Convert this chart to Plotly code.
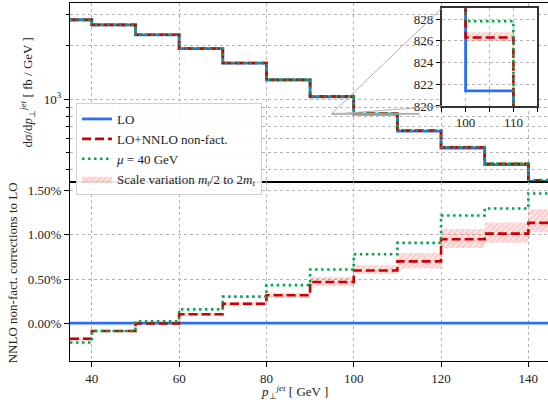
import numpy as np
import plotly.graph_objects as go

# ---------------- data ----------------
bin_edges = [35, 40, 50, 60, 70, 80, 90, 100, 110, 120, 130, 140, 145]
lo_xsec = [2812, 2633, 2311, 1931, 1596, 1282, 1030, 821.4, 658, 528, 425, 342]          # fb/GeV
nnlo_corr = [-0.177, -0.09, -0.005, 0.10, 0.22, 0.315, 0.466, 0.597, 0.70, 0.95, 1.015, 1.136]  # %
mu40_corr = [-0.22, -0.09, 0.02, 0.155, 0.30, 0.43, 0.607, 0.78, 0.91, 1.22, 1.30, 1.47]       # %
band_low = [-0.20, -0.10, -0.015, 0.08, 0.195, 0.285, 0.417, 0.557, 0.62, 0.852, 0.91, 1.03]    # %
band_high = [-0.155, -0.08, 0.005, 0.115, 0.24, 0.345, 0.523, 0.657, 0.795, 1.068, 1.14, 1.29]  # %
x_ticks = [40, 60, 80, 100, 120, 140]
ratio_ticks = [0.0, 0.5, 1.0, 1.5]
ratio_ticktext = ["0.00%", "0.50%", "1.00%", "1.50%"]
inset_x_ticks = [100, 110]
inset_x_minor = [95, 105, 115]
inset_y_ticks = [820, 822, 824, 826, 828]

# ---------------- styles ----------------
FONT = "Liberation Serif"
BLUE = "#2d6ff2"
RED = "#cc0000"
GREEN = "#00a84f"
GRID = "#b4b4b4"
XR = [35, 144.5]
YLOG = [2.530, 3.544]
INSET_XR = [95, 115]
INSET_YR = [820, 829]

lo = np.array(lo_xsec)
nnlo_abs = lo * (1 + np.array(nnlo_corr) / 100)
mu_abs = lo * (1 + np.array(mu40_corr) / 100)
blo_abs = lo * (1 + np.array(band_low) / 100)
bhi_abs = lo * (1 + np.array(band_high) / 100)


def stepy(v):
    v = list(v)
    return v + [v[-1]]


band_style = dict(
    fillcolor="rgba(255,90,90,0.16)",
    fillpattern=dict(shape="/", fgcolor="rgba(235,60,60,0.45)", size=4, solidity=0.3, fillmode="overlay"),
)

fig = go.Figure()


def add_set(xa, ya, lo_v, nn_v, mu_v, bl_v, bh_v, legend):
    # band
    fig.add_trace(go.Scatter(x=bin_edges, y=stepy(bl_v), mode="lines", line=dict(width=0, shape="hv"),
                             showlegend=False, hoverinfo="skip", xaxis=xa, yaxis=ya))
    fig.add_trace(go.Scatter(x=bin_edges, y=stepy(bh_v), mode="lines", line=dict(width=0, shape="hv"),
                             fill="tonexty", showlegend=legend, legendrank=4,
                             name="Scale variation <i>m<sub>t</sub></i>/2 to 2<i>m<sub>t</sub></i>",
                             xaxis=xa, yaxis=ya, **band_style))
    fig.add_trace(go.Scatter(x=bin_edges, y=stepy(lo_v), mode="lines", line=dict(color=BLUE, width=2.8, shape="hv"),
                             name="LO", showlegend=legend, legendrank=1, xaxis=xa, yaxis=ya))
    fig.add_trace(go.Scatter(x=bin_edges, y=stepy(nn_v), mode="lines",
                             line=dict(color=RED, width=2.6, shape="hv", dash="9px,4px"),
                             name="LO+NNLO non-fact.", showlegend=legend, legendrank=2, xaxis=xa, yaxis=ya))
    fig.add_trace(go.Scatter(x=bin_edges, y=stepy(mu_v), mode="lines",
                             line=dict(color=GREEN, width=2.6, shape="hv", dash="2.5px,3.5px"),
                             name="<i>μ</i> = 40 GeV", showlegend=legend, legendrank=3, xaxis=xa, yaxis=ya))


# top panel
add_set("x", "y", lo, nnlo_abs, mu_abs, blo_abs, bhi_abs, True)
# bottom panel (relative corrections)
zeros = [0.0] * len(lo_xsec)
add_set("x2", "y2", zeros, nnlo_corr, mu40_corr, band_low, band_high, False)
# inset
add_set("x3", "y3", lo, nnlo_abs, mu_abs, blo_abs, bhi_abs, False)

axis_common = dict(showgrid=True, gridcolor=GRID, griddash="dot", gridwidth=1,
                   showline=True, linecolor="black", linewidth=1.2, zeroline=False,
                   tickfont=dict(family=FONT, size=13, color="#222"), tickcolor="black")

inset_dom_x = [0.7776, 0.9776]
inset_dom_y = [0.7123, 0.9852]

fig.update_layout(
    width=548, height=403,
    margin=dict(l=70, r=0, t=3, b=42),
    paper_bgcolor="white", plot_bgcolor="white",
    font=dict(family=FONT, size=13, color="#222"),
    xaxis=dict(domain=[0, 1], anchor="y", range=XR, tickvals=x_ticks, showticklabels=False,
               ticks="", mirror=True, **axis_common),
    yaxis=dict(domain=[0.5, 1], anchor="x", type="log", range=YLOG, tickvals=[1000],
               ticktext=["10<sup>3</sup>"], ticks="outside", ticklen=5,
               minor=dict(tickvals=[400, 500, 600, 700, 800, 900, 2000, 3000], ticks="outside", ticklen=3,
                          tickcolor="black", showgrid=True, gridcolor=GRID, griddash="dot"),
               **axis_common),
    xaxis2=dict(domain=[0, 1], anchor="y2", range=XR, tickvals=x_ticks, ticks="outside", ticklen=5,
                mirror=True, **axis_common),
    yaxis2=dict(domain=[0, 0.5], anchor="x2", range=[-0.43, 1.60], tickvals=ratio_ticks,
                ticktext=ratio_ticktext, ticks="outside", ticklen=5, **axis_common),
    xaxis3=dict(domain=inset_dom_x, anchor="y3", range=INSET_XR, tickvals=inset_x_ticks,
                ticks="outside", ticklen=4, mirror=True,
                minor=dict(tickvals=inset_x_minor, ticks="outside", ticklen=4, tickcolor="black",
                           showgrid=True, gridcolor=GRID, griddash="dot"),
                **{**axis_common, "linecolor": "#333", "linewidth": 1.6}),
    yaxis3=dict(domain=inset_dom_y, anchor="x3", range=INSET_YR, tickvals=inset_y_ticks,
                ticks="outside", ticklen=4, mirror=True,
                **{**axis_common, "linecolor": "#333", "linewidth": 1.6}),
    legend=dict(x=0.0126, y=0.7207, xanchor="left", yanchor="top", bgcolor="rgba(255,255,255,0.9)",
                bordercolor="#d0d0d0", borderwidth=1, font=dict(family=FONT, size=13, color="#222"),
                tracegroupgap=0, itemwidth=30, traceorder="normal"),
    showlegend=True,
)


# inset indicator rectangle and connectors (paper coordinates)
def px_top(xv):
    return (xv - XR[0]) / (XR[1] - XR[0])


def py_top(v):
    return 0.5 + 0.5 * (np.log10(v) - YLOG[0]) / (YLOG[1] - YLOG[0])


rx0, rx1 = px_top(INSET_XR[0]), px_top(INSET_XR[1])
ry0, ry1 = py_top(INSET_YR[0]), py_top(INSET_YR[1])
shapes = [
    dict(type="rect", xref="x3 domain", yref="y3 domain", x0=0, x1=1, y0=0, y1=1,
         fillcolor="white", line=dict(width=0), layer="below"),
    dict(type="rect", xref="paper", yref="paper", x0=rx0, x1=rx1, y0=ry0, y1=ry1,
         line=dict(color="#a8a8a8", width=1), layer="above"),
    dict(type="line", xref="paper", yref="paper", x0=rx0, y0=ry1, x1=inset_dom_x[0], y1=inset_dom_y[1],
         line=dict(color="#b0b0b0", width=1), layer="above"),
    dict(type="line", xref="paper", yref="paper", x0=rx0, y0=ry0, x1=inset_dom_x[0], y1=inset_dom_y[0],
         line=dict(color="#b0b0b0", width=1), layer="above"),
]
fig.update_layout(shapes=shapes)

fig.add_annotation(text="d<i>σ</i>/d<i>p</i><sub>⊥</sub><sup><i>jet</i></sup> [ fb / GeV ]",
                   xref="paper", yref="paper", x=0, y=0.75, xshift=-43, textangle=-90,
                   xanchor="center", yanchor="middle", showarrow=False, font=dict(family=FONT, size=13, color="#222"))
fig.add_annotation(text="NNLO non-fact. corrections to LO",
                   xref="paper", yref="paper", x=0, y=0.245, xshift=-58, textangle=-90,
                   xanchor="center", yanchor="middle", showarrow=False, font=dict(family=FONT, size=13, color="#222"))
fig.add_annotation(text="<i>p</i><sub>⊥</sub><sup><i>jet</i></sup> [ GeV ]",
                   xref="paper", yref="paper", x=0.4707, y=-0.0866,
                   xanchor="center", yanchor="middle", showarrow=False, font=dict(family=FONT, size=13, color="#222"))

# remove the default 8px page margin so the figure sits at the window's top-left corner
fig.write_html("out.html", config={"displayModeBar": False},
               post_script="document.body.style.margin='0';document.body.style.overflow='hidden';")
